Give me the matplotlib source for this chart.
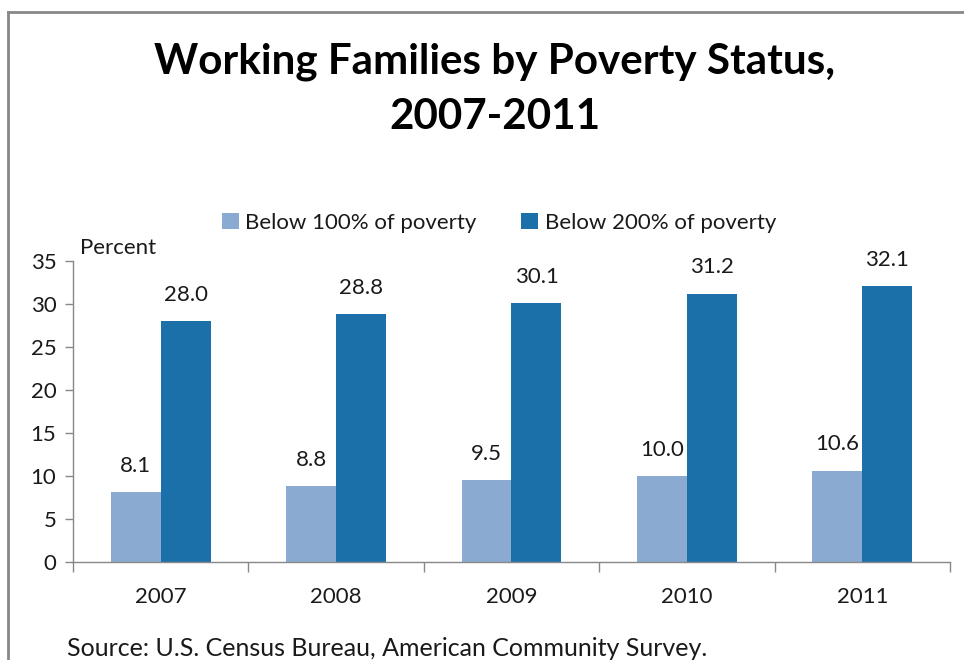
import matplotlib
matplotlib.use("Agg")
import matplotlib.pyplot as plt
from matplotlib.lines import Line2D
import numpy as np

years = ["2007", "2008", "2009", "2010", "2011"]
below_100 = [8.1, 8.8, 9.5, 10.0, 10.6]
below_200 = [28.0, 28.8, 30.1, 31.2, 32.1]
series_names = ["Below 100% of poverty", "Below 200% of poverty"]
yticks = [0, 5, 10, 15, 20, 25, 30, 35]

plt.rcParams['font.family'] = ['Lato', 'DejaVu Sans']
light = '#8BAAD1'
dark = '#1B70A9'
txt = '#1a1a1a'
fs = 16

fig = plt.figure(figsize=(9.64, 6.6), dpi=100)
ax = fig.add_axes([73/964, 1-562/660, (950-73)/964, (562-261)/660])

x = np.arange(len(years))
w = 0.285
b1 = ax.bar(x - w/2, below_100, width=w, color=light, label=series_names[0])
b2 = ax.bar(x + w/2, below_200, width=w, color=dark, label=series_names[1])

for bars, vals in ((b1, below_100), (b2, below_200)):
    for rect, v in zip(bars, vals):
        ax.annotate(f"{v:.1f}", (rect.get_x() + rect.get_width()/2, v), xytext=(0, 19),
                    textcoords='offset points', ha='center', va='center', fontsize=fs, color=txt)

ax.set_xlim(-0.5, len(years) - 0.5)
ax.set_ylim(0, 35)
ax.set_yticks(yticks)
ax.set_yticklabels([str(t) for t in yticks], fontsize=fs, color=txt)
ax.set_xticks(np.arange(len(years) + 1) - 0.5)
ax.set_xticklabels([])
ax.set_xticks(x, minor=True)
ax.set_xticklabels(years, minor=True, fontsize=fs, color=txt)
ax.tick_params(axis='x', which='major', direction='out', length=7, color='#888888', width=1)
ax.tick_params(axis='x', which='minor', length=0, pad=18)
ax.tick_params(axis='y', direction='out', length=6, color='#888888', width=1, pad=6)
for s in ['top', 'right']:
    ax.spines[s].set_visible(False)
for s in ['left', 'bottom']:
    ax.spines[s].set_color('#888888')
    ax.spines[s].set_linewidth(1)

fig.text(80/964, 1-248/660, "Percent", fontsize=fs, color=txt, ha='left', va='center')

fig.text(495/964, 1-62/660, "Working Families by Poverty Status,", fontsize=30.3, fontweight='bold',
         ha='center', va='center', color='black')
fig.text(495/964, 1-117/660, "2007-2011", fontsize=30.3, fontweight='bold',
         ha='center', va='center', color='black')

leg = fig.legend(handles=[b1, b2], loc='center', bbox_to_anchor=(499/964, 1-223/660), ncol=2,
                 frameon=False, fontsize=fs, handlelength=0.75, handleheight=0.75,
                 handletextpad=0.3, columnspacing=2.0)
for t in leg.get_texts():
    t.set_color(txt)

fig.text(67/964, 1-648/660, "Source: U.S. Census Bureau, American Community Survey.", fontsize=18,
         ha='left', va='center', color=txt)

fig.add_artist(Line2D([8/964, 8/964], [0, 1-12/660], color='#888888', linewidth=2,
                      transform=fig.transFigure))
fig.add_artist(Line2D([8/964, 1], [1-12/660, 1-12/660], color='#888888', linewidth=2,
                      transform=fig.transFigure))

fig.savefig("out.png", dpi=100, facecolor='white')
